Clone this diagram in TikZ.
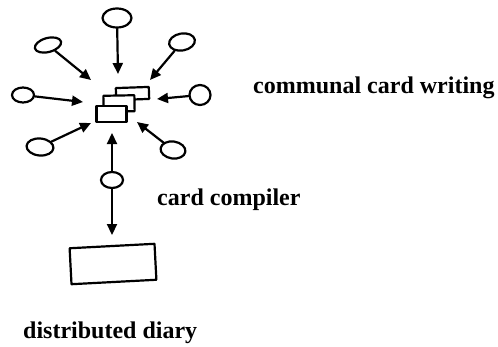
\documentclass[tikz,border=0pt]{standalone}
\usepackage{fontspec}
\setmainfont{Liberation Serif}
\usetikzlibrary{arrows.meta,shapes.geometric}
\tikzset{
  ink/.style={line width=2.2pt, black, line join=round, line cap=round},
  blob/.style={ink, draw, ellipse, inner sep=0pt, fill=white},
  card/.style={ink, draw, fill=white, rectangle, inner sep=0pt},
  flow/.style={ink, -{Triangle[length=11pt,width=10pt]}},
  label/.style={anchor=base west, inner sep=0pt, font=\fontsize{24}{28}\selectfont\bfseries},
}
\begin{document}
\begin{tikzpicture}[x=1pt, y=-1pt]
  \useasboundingbox (0,0) rectangle (498,346);

  % stack of cards in the middle
  \node[card, minimum width=33pt, minimum height=12pt, rotate=2] (back) at (132.5,93.5) {};
  \node[card, minimum width=31pt, minimum height=16pt, rotate=1] (mid) at (119,103.5) {};
  \node[card, minimum width=30pt, minimum height=16pt] (front) at (111.5,114) {};

  % contributors around the stack
  \node[blob, minimum width=29pt, minimum height=19pt] (t) at (117,18) {};
  \node[blob, minimum width=27pt, minimum height=14pt, rotate=15] (tl) at (48,45) {};
  \node[blob, minimum width=26pt, minimum height=17pt, rotate=10] (tr) at (182,42) {};
  \node[blob, minimum width=22pt, minimum height=15pt] (l) at (23,95) {};
  \node[blob, minimum width=21pt, minimum height=20pt] (r) at (200,95) {};
  \node[blob, minimum width=27pt, minimum height=17pt, rotate=-5] (bl) at (40,147) {};
  \node[blob, minimum width=25pt, minimum height=17pt, rotate=-8] (br) at (173,150) {};

  % arrow tips just short of the stack
  \coordinate (pt)  at (118,74);
  \coordinate (ptl) at (91,80);
  \coordinate (ptr) at (150,80);
  \coordinate (pl)  at (83,102);
  \coordinate (pr)  at (157,99);
  \coordinate (pbl) at (91,123);
  \coordinate (pbr) at (137,122);

  \draw[flow] (t) -- (pt);
  \draw[flow] (tl) -- (ptl);
  \draw[flow] (tr) -- (ptr);
  \draw[flow] (l) -- (pl);
  \draw[flow] (r) -- (pr);
  \draw[flow] (bl) -- (pbl);
  \draw[flow] (br) -- (pbr);

  % compiler and diary
  \node[blob, minimum width=22pt, minimum height=16pt] (c) at (112,180) {};
  \coordinate (pc) at (112,133);
  \coordinate (pd) at (112,235);
  \node[card, minimum width=85pt, minimum height=36pt, rotate=3] (diary) at (113,264) {};

  \draw[flow] (c) -- (pc);
  \draw[flow] (c) -- (pd);

  % captions
  \node[label] (lw) at (253,93) {communal card writing};
  \node[label] (lc) at (157,205) {card compiler};
  \node[label] (ld) at (23,338) {distributed diary};
\end{tikzpicture}
\end{document}
